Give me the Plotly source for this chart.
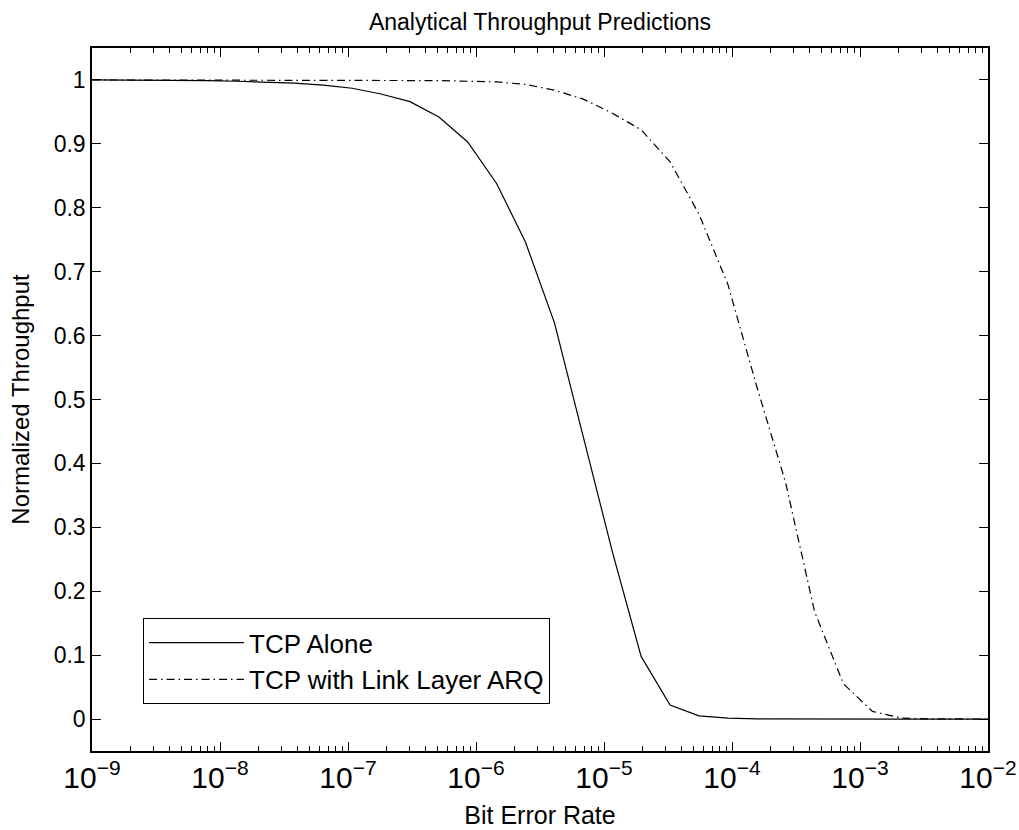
import plotly.graph_objects as go

# Bit error rate sample points (log10 exponents)
ber_exponents = [-9.000, -8.774, -8.548, -8.323, -8.097, -7.871, -7.645, -7.419,
                 -7.194, -6.968, -6.742, -6.516, -6.290, -6.065, -5.839, -5.613,
                 -5.387, -5.161, -4.935, -4.710, -4.484, -4.258, -4.032, -3.806,
                 -3.581, -3.355, -3.129, -2.903, -2.677, -2.452, -2.226, -2.000]
ber = [10 ** e for e in ber_exponents]

tcp_alone = [1.0, 1.0, 0.9998, 0.9996, 0.999, 0.998, 0.997, 0.995,
             0.992, 0.987, 0.978, 0.966, 0.942, 0.903, 0.838, 0.746,
             0.620, 0.440, 0.262, 0.098, 0.022, 0.005, 0.0015, 0.0004,
             0.0001, 0.0, 0.0, 0.0, 0.0, 0.0, 0.0, 0.0]

tcp_arq = [1.0, 1.0, 1.0, 1.0, 1.0, 1.0, 1.0, 1.0,
           1.0, 1.0, 0.9998, 0.9995, 0.999, 0.998, 0.997, 0.993,
           0.984, 0.970, 0.948, 0.922, 0.872, 0.790, 0.680, 0.520,
           0.370, 0.168, 0.055, 0.012, 0.0015, 0.0003, 0.0, 0.0]

y_tick_vals = [0, 0.1, 0.2, 0.3, 0.4, 0.5, 0.6, 0.7, 0.8, 0.9, 1]
y_tick_text = ["0", "0.1", "0.2", "0.3", "0.4", "0.5", "0.6", "0.7", "0.8", "0.9", "1"]

FONT = "Liberation Sans, Arial, Helvetica, sans-serif"

fig = go.Figure()
fig.add_trace(go.Scatter(x=ber, y=tcp_alone, mode="lines", name="TCP Alone",
                         line=dict(color="black", width=1.2)))
fig.add_trace(go.Scatter(x=ber, y=tcp_arq, mode="lines", name="TCP with Link Layer ARQ",
                         line=dict(color="black", width=1.2, dash="8px,4px,1.5px,4px")))

fig.update_layout(
    width=1019, height=830,
    margin=dict(l=92, r=31, t=48, b=79, autoexpand=False),
    paper_bgcolor="white", plot_bgcolor="white",
    font=dict(family=FONT, size=21, color="black"),
    title=dict(text="Analytical Throughput Predictions", x=0.5, xanchor="center",
               xref="paper", y=1 - 22 / 830, yanchor="middle", font=dict(size=23)),
    showlegend=True,
    legend=dict(x=0.057, y=0.189, xanchor="left", yanchor="top",
                bgcolor="white", bordercolor="black", borderwidth=1,
                font=dict(size=26), tracegroupgap=0, itemwidth=95),
)

fig.update_xaxes(
    type="log", range=[-9, -2], dtick=1, exponentformat="power",
    ticks="inside", ticklen=9, tickwidth=1, tickcolor="black",
    minor=dict(ticks="inside", ticklen=5, tickcolor="black", dtick="D1", showgrid=False),
    showline=True, linecolor="black", linewidth=1.5, mirror="ticks",
    showgrid=False, zeroline=False, automargin=False,
    title=dict(text="Bit Error Rate", standoff=14, font=dict(size=25)),
    tickfont=dict(size=24),
)
fig.update_yaxes(
    range=[-0.05, 1.05],
    tickvals=y_tick_vals, ticktext=y_tick_text,
    ticks="inside", ticklen=9, tickwidth=1, tickcolor="black",
    showline=True, linecolor="black", linewidth=1.5, mirror="ticks",
    showgrid=False, zeroline=False, automargin=False,
    title=dict(text="Normalized Throughput", standoff=17, font=dict(size=24)),
    tickfont=dict(size=23),
)

fig.write_html("out.html", config={"displayModeBar": False},
               post_script="document.body.style.margin='0';")
